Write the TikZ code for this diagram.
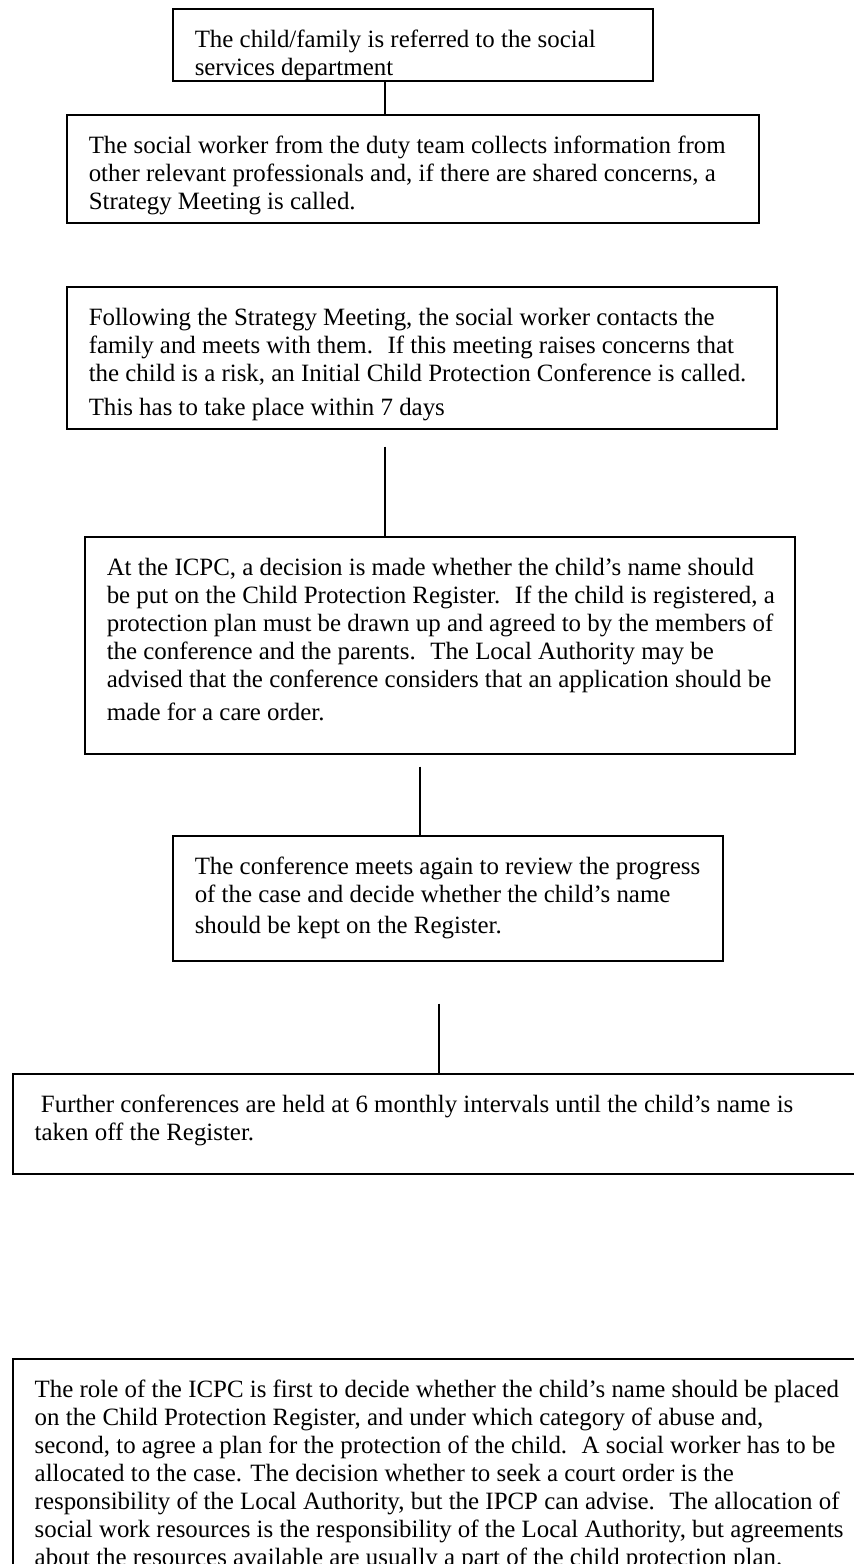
\documentclass[tikz,border=0pt]{standalone}
\usepackage{fontspec}
\setmainfont{Liberation Serif}

\newcommand{\stagetext}[3]{\begin{minipage}[t][#2][t]{#1}\noindent\begin{tabular}[t]{@{}l@{}}#3\end{tabular}\end{minipage}}

\begin{document}
\begin{tikzpicture}[x=1pt, y=-1pt,
    stage/.style={draw, line width=0.75pt, anchor=north west, inner xsep=11pt, inner ysep=9.5pt,
      font=\fontsize{12.45}{14}\selectfont},
    link/.style={line width=0.75pt}]
    \useasboundingbox (0,0) rectangle (426.5,782);
    %flow of the child protection procedure
    \node[stage] at (86,4) (refer){\stagetext{218pt}{17pt}{The child/family is referred to the social\\ services department}};
    \node[stage] at (33,57) (collect){\stagetext{324pt}{35pt}{The social worker from the duty team collects information from\\ other relevant professionals and, if there are shared concerns, a\\ Strategy Meeting is called.}};
    \node[stage] at (33,143) (contact){\stagetext{333pt}{52pt}{Following the Strategy Meeting, the social worker contacts the\\ family and meets with them.~ If this meeting raises concerns that\\ the child is a risk, an Initial Child Protection Conference is called.\\[3pt] This has to take place within 7 days}};
    \node[stage] at (42,268) (icpc){\stagetext{333pt}{89.5pt}{At the ICPC, a decision is made whether the child’s name should\\ be put on the Child Protection Register.~ If the child is registered, a\\ protection plan must be drawn up and agreed to by the members of\\ the conference and the parents.~ The Local Authority may be\\ advised that the conference considers that an application should be\\[2.5pt] made for a care order.}};
    \node[stage] at (86,417.5) (review){\stagetext{253pt}{43.5pt}{The conference meets again to review the progress\\ of the case and decide whether the child’s name\\[1.5pt] should be kept on the Register.}};
    \node[stage] at (6,536.5) (further){\stagetext{407pt}{31pt}{\ Further conferences are held at 6 monthly intervals until the child’s name is\\ taken off the Register.}};
    \node[stage] at (6,679) (role){\stagetext{407pt}{102pt}{The role of the ICPC is first to decide whether the child’s name should be placed\\ on the Child Protection Register, and under which category of abuse and,\\ second, to agree a plan for the protection of the child.~ A social worker has to be\\ allocated to the case. The decision whether to seek a court order is the\\ responsibility of the Local Authority, but the IPCP can advise.~ The allocation of\\ social work resources is the responsibility of the Local Authority, but agreements\\ about the resources available are usually a part of the child protection plan.}};
    \draw[link] ([xshift=-14pt]refer.south) -- ([xshift=-14pt]refer.south |- collect.north);
    \draw[link] ([xshift=-18.5pt, yshift=-8.5pt]contact.south) -- ([xshift=-18.5pt]contact.south |- icpc.north);
    \draw[link] ([xshift=-10pt, yshift=-6pt]icpc.south) -- ([xshift=-10pt]icpc.south |- review.north);
    \draw[link] ([xshift=-4.5pt, yshift=-21pt]review.south) -- ([xshift=-4.5pt]review.south |- further.north);
\end{tikzpicture}
\end{document}
